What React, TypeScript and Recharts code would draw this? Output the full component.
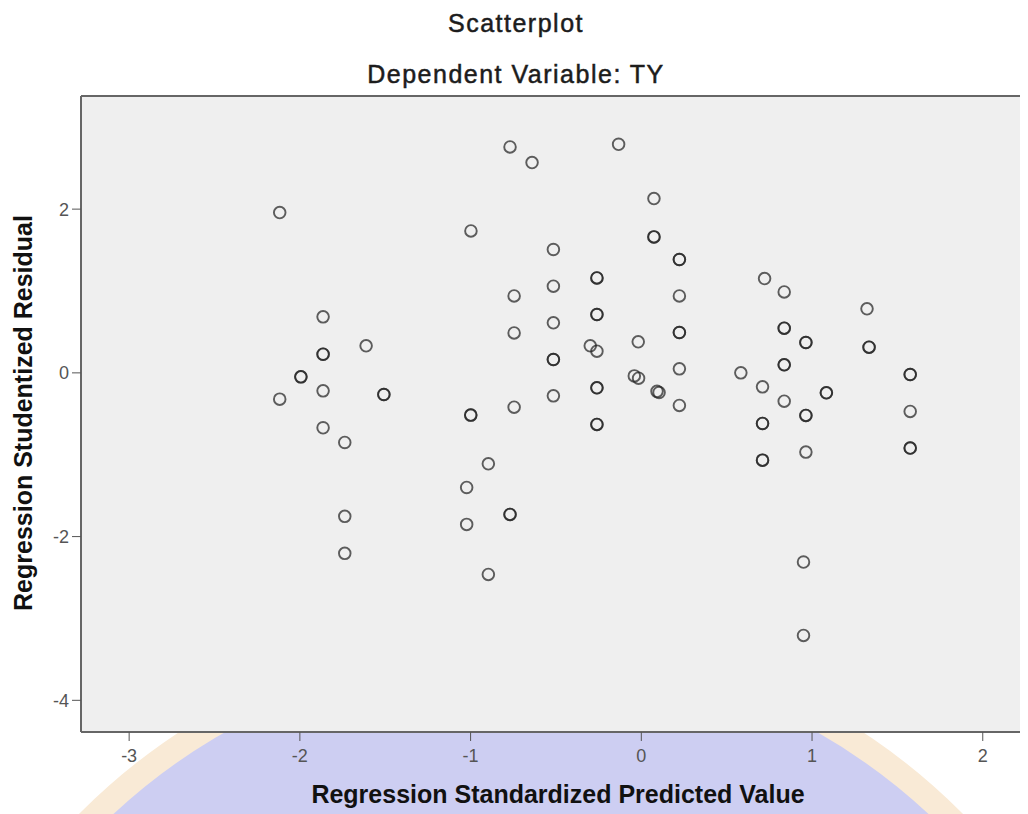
import React from "react";
import { ScatterChart, Scatter, XAxis, YAxis, ReferenceArea, ReferenceLine, Label } from "recharts";

// Regression Standardized Predicted Value (x) / Regression Studentized Residual (y)
// darker rings in the original are two cases on the same spot, so they appear twice
const predicted = [
  -2.118, -1.864, -1.864, -1.864, -1.612, -1.994, -1.994, -1.864, -2.118, -1.508, -1.508,
  -1.864, -1.737, -1.737, -1.737,
  -0.745, -0.745, -0.999, -0.999, -0.745, -0.896, -1.023, -0.769, -0.769, -1.023, -0.896,
  -0.769, -0.64, -0.133, 0.074, -0.998, 0.074, 0.074, -0.515, 0.223, 0.223, -0.26, -0.26,
  -0.515, 0.223, -0.26, -0.26, -0.515, 0.223, 0.223, -0.299, -0.26, -0.018, -0.515, -0.515,
  0.223, -0.041, -0.016, -0.26, -0.26, 0.092, 0.104, -0.515, 0.223, -0.26, -0.26,
  0.722, 0.837, 1.322, 0.837, 0.837, 0.964, 0.964, 1.334, 1.334, 0.837, 0.837, 0.583,
  1.575, 1.575, 0.71, 1.084, 1.084, 0.837, 0.964, 0.964, 1.575, 0.71, 0.71, 0.964, 0.71,
  0.71, 1.575, 1.575, 0.95, 0.95,
];
const residual = [
  1.958, 0.684, 0.228, 0.228, 0.33, -0.049, -0.049, -0.22, -0.321, -0.264, -0.264,
  -0.671, -0.85, -1.753, -2.205,
  0.94, 0.488, -0.516, -0.516, -0.419, -1.111, -1.4, -1.729, -1.729, -1.851, -2.462,
  2.76, 2.569, 2.792, 2.129, 1.734, 1.661, 1.661, 1.507, 1.385, 1.385, 1.16, 1.16,
  1.059, 0.94, 0.713, 0.713, 0.611, 0.493, 0.493, 0.33, 0.265, 0.379, 0.163, 0.163,
  0.049, -0.037, -0.065, -0.183, -0.183, -0.226, -0.24, -0.281, -0.398, -0.63, -0.63,
  1.152, 0.989, 0.782, 0.546, 0.546, 0.371, 0.371, 0.314, 0.314, 0.098, 0.098, 0.0,
  -0.02, -0.02, -0.171, -0.244, -0.244, -0.346, -0.52, -0.52, -0.471, -0.618, -0.618, -0.968, -1.066,
  -1.066, -0.919, -0.919, -2.311, -3.207,
];

const xTicks = [-3, -2, -1, 0, 1, 2];
const yTicks = [-4, -2, 0, 2];
const xDomain = [-3.282, 2.306];
const yDomain = [-4.387, 3.382];

const title = "Scatterplot";
const subtitle = "Dependent Variable: TY";
const xLabel = "Regression Standardized Predicted Value";
const yLabel = "Regression Studentized Residual";

const points = predicted.map((x, i) => ({ x, y: residual[i] }));

const font = "'Liberation Sans', Arial, sans-serif";

const Ring = (props: any) => (
  <circle
    cx={props.cx}
    cy={props.cy}
    r={5.8}
    fill="none"
    stroke="#222"
    strokeWidth={1.9}
    strokeOpacity={0.72}
  />
);

const tickStyle = { fill: "#555", fontSize: 18, fontFamily: font };

export default function App() {
  return (
    <div style={{ position: "relative", width: 1020, height: 806, overflow: "hidden", background: "#fff" }}>
      {/* watermark seal behind the axis area */}
      <div
        style={{
          position: "absolute",
          left: -110,
          top: 622,
          width: 1246,
          height: 1246,
          borderRadius: "50%",
          boxSizing: "border-box",
          background: "#cdcef2",
          border: "24px solid #f9ead6",
        }}
      />
      <svg width={1020} height={90} style={{ position: "absolute", left: 0, top: 0 }}>
        <text x={508} y={24} textAnchor="middle" fontFamily={font} fontSize={25} letterSpacing={1.5}
          fill="#1c1c1c" stroke="#1c1c1c" strokeWidth={0.5}>
          {title}
        </text>
        <text x={508} y={75} textAnchor="middle" fontFamily={font} fontSize={25} letterSpacing={1.5}
          fill="#1c1c1c" stroke="#1c1c1c" strokeWidth={0.5}>
          {subtitle}
        </text>
      </svg>
      <div style={{ position: "absolute", left: 0, top: 0 }}>
        <ScatterChart width={1040} height={806} margin={{ top: 88, right: 13, bottom: 0, left: 13 }}>
          <ReferenceArea
            x1={xDomain[0]}
            x2={xDomain[1]}
            y1={yDomain[0]}
            y2={yDomain[1]}
            fill="#efefef"
            fillOpacity={1}
            stroke="none"
          />
          <ReferenceLine y={yDomain[1]} stroke="#666" strokeWidth={2} />
          <XAxis
            type="number"
            dataKey="x"
            domain={xDomain}
            ticks={xTicks}
            allowDataOverflow
            height={82}
            tickSize={9}
            tickMargin={8}
            tick={tickStyle}
            axisLine={{ stroke: "#666", strokeWidth: 2 }}
            tickLine={{ stroke: "#555" }}
          >
            <Label
              content={(p: any) => (
                <text
                  x={p.viewBox.x + 477}
                  y={p.viewBox.y + 71}
                  textAnchor="middle"
                  fontFamily={font}
                  fontSize={25}
                  fontWeight="bold"
                  fill="#111"
                >
                  {xLabel}
                </text>
              )}
            />
          </XAxis>
          <YAxis
            type="number"
            dataKey="y"
            domain={yDomain}
            ticks={yTicks}
            allowDataOverflow
            width={60}
            tickSize={9}
            tickMargin={3}
            tick={tickStyle}
            axisLine={{ stroke: "#666", strokeWidth: 2 }}
            tickLine={{ stroke: "#555" }}
          >
            <Label
              content={(p: any) => {
                const cx = p.viewBox.x + 11;
                const cy = 405;
                return (
                  <text
                    x={cx}
                    y={cy}
                    transform={`rotate(-90, ${cx}, ${cy})`}
                    textAnchor="middle"
                    fontFamily={font}
                    fontSize={25}
                    fontWeight="bold"
                    fill="#111"
                  >
                    {yLabel}
                  </text>
                );
              }}
            />
          </YAxis>
          <Scatter data={points} shape={Ring} isAnimationActive={false} />
        </ScatterChart>
      </div>
    </div>
  );
}
